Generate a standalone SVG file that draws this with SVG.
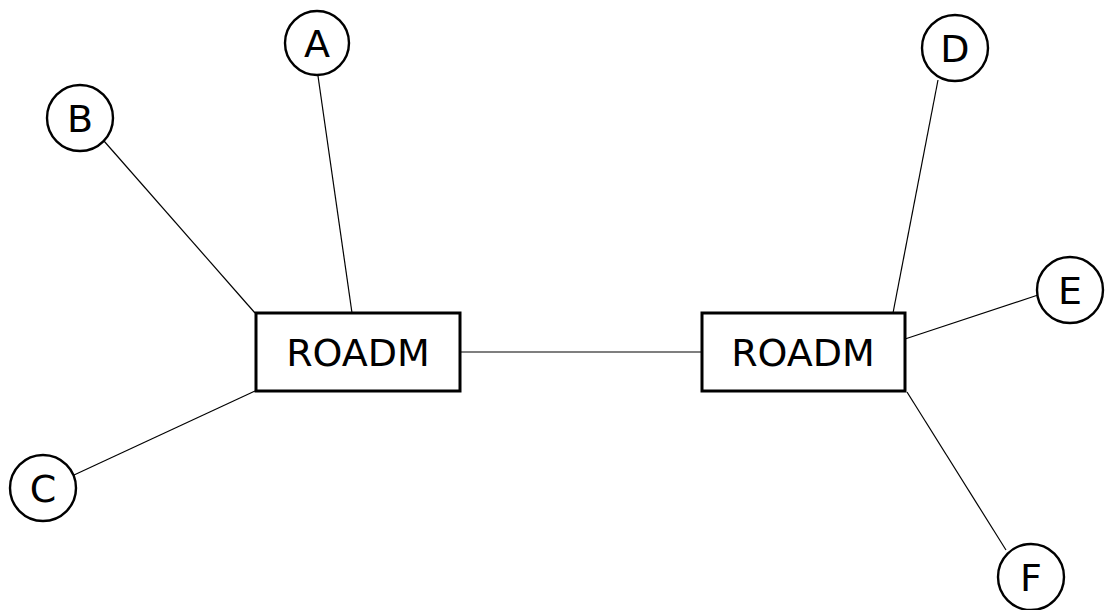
<svg xmlns="http://www.w3.org/2000/svg" width="1106" height="610" viewBox="0 0 1106 610">
  <style>
    .edge { stroke: #000; stroke-width: 1.2; fill: none; }
    .site { fill: #fff; stroke: #000; stroke-width: 2.4; }
    .roadm { fill: #fff; stroke: #000; stroke-width: 3; }
    .label { font-family: "DejaVu Sans", sans-serif; font-size: 38px; fill: #000; text-anchor: middle; dominant-baseline: central; }
  </style>
  <rect width="1106" height="610" fill="#fff"/>
  <g id="connectors">
    <line class="edge" x1="460" y1="352" x2="702" y2="352"/>
    <line class="edge" x1="318" y1="76" x2="352" y2="313"/>
    <line class="edge" x1="104" y1="141" x2="255" y2="313"/>
    <line class="edge" x1="74" y1="475" x2="255" y2="391"/>
    <line class="edge" x1="938" y1="80" x2="893" y2="313"/>
    <line class="edge" x1="1038" y1="295" x2="905" y2="339"/>
    <line class="edge" x1="1006" y1="550" x2="907" y2="392"/>
  </g>
  <g id="roadm-west">
    <rect class="roadm" x="256" y="313" width="204" height="78"/>
    <text class="label" x="358" y="353">ROADM</text>
  </g>
  <g id="roadm-east">
    <rect class="roadm" x="702" y="313" width="203" height="78"/>
    <text class="label" x="803" y="353">ROADM</text>
  </g>
  <g id="site-a">
    <circle class="site" cx="317" cy="43" r="32"/>
    <text class="label" x="317" y="44">A</text>
  </g>
  <g id="site-b">
    <circle class="site" cx="80" cy="118" r="33"/>
    <text class="label" x="80" y="119">B</text>
  </g>
  <g id="site-c">
    <circle class="site" cx="43" cy="488" r="33"/>
    <text class="label" x="43" y="489">C</text>
  </g>
  <g id="site-d">
    <circle class="site" cx="955" cy="48" r="33"/>
    <text class="label" x="955" y="49">D</text>
  </g>
  <g id="site-e">
    <circle class="site" cx="1070" cy="290" r="33"/>
    <text class="label" x="1070" y="291">E</text>
  </g>
  <g id="site-f">
    <circle class="site" cx="1031" cy="577" r="33"/>
    <text class="label" x="1031" y="578">F</text>
  </g>
</svg>
